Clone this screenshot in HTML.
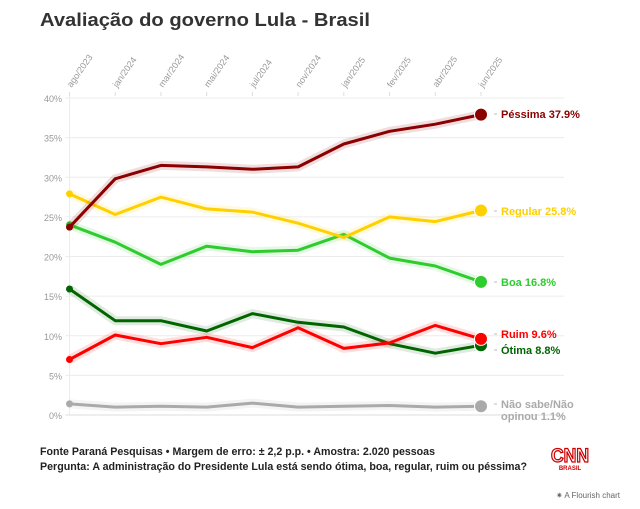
<!DOCTYPE html>
<html><head><meta charset="utf-8"><style>
body{margin:0;background:#fff;width:640px;height:504px;overflow:hidden;font-family:"Liberation Sans",sans-serif;}
</style></head><body>
<svg id="chart" width="640" height="504" xmlns="http://www.w3.org/2000/svg">
<text x="40" y="26" font-size="18" font-weight="bold" fill="#333" textLength="330" lengthAdjust="spacingAndGlyphs">Avaliação do governo Lula - Brasil</text>
<g id="grid"></g><g id="series"></g><g id="labels"></g>
<text x="40" y="455" font-size="11" font-weight="bold" fill="#222" textLength="395" lengthAdjust="spacingAndGlyphs">Fonte Paraná Pesquisas • Margem de erro: ± 2,2 p.p. • Amostra: 2.020 pessoas</text>
<text x="40" y="470" font-size="11" font-weight="bold" fill="#222" textLength="487" lengthAdjust="spacingAndGlyphs">Pergunta: A administração do Presidente Lula está sendo ótima, boa, regular, ruim ou péssima?</text>
<g>
<text x="570" y="462" font-size="19" font-weight="bold" fill="none" stroke="#cc0000" stroke-width="1.3" text-anchor="middle" textLength="38" lengthAdjust="spacingAndGlyphs">CNN</text>
<text x="570" y="470" font-size="6" font-weight="bold" fill="#cc0000" text-anchor="middle">BRASIL</text>
</g>
<text x="620" y="498" font-size="8" fill="#666" text-anchor="end">✷ A Flourish chart</text>
</svg>
<script>
const categories=["ago/2023","jan/2024","mar/2024","mai/2024","jul/2024","nov/2024","jan/2025","fev/2025","abr/2025","jun/2025"];
const yTicks=[0,5,10,15,20,25,30,35,40];
const seriesNames=["Péssima","Regular","Boa","Ruim","Ótima","Não sabe/Não opinou"];
const seriesColors=["#8b0000","#ffd000","#2ecc2e","#ff0000","#006400","#aaaaaa"];
const pessima=[23.7,29.8,31.5,31.3,31.0,31.3,34.2,35.8,36.7,37.9];
const regular=[27.9,25.3,27.5,26.0,25.6,24.2,22.4,25.0,24.4,25.8];
const boa=[24.0,21.8,19.0,21.3,20.6,20.8,22.8,19.8,18.8,16.8];
const ruim=[7.0,10.1,9.0,9.8,8.5,11.0,8.4,9.1,11.3,9.6];
const otima=[15.9,11.9,11.9,10.6,12.8,11.7,11.1,9.0,7.8,8.8];
const naoSabe=[1.4,1.0,1.1,1.0,1.5,1.0,1.1,1.2,1.0,1.1];
const allSeries=[pessima,regular,boa,ruim,otima,naoSabe];
const labelText=["Péssima 37.9%","Regular 25.8%","Boa 16.8%","Ruim 9.6%","Ótima 8.8%","Não sabe/Não|opinou 1.1%"];
const NS="http://www.w3.org/2000/svg";
const x0=69.5,x1=481,yb=415,yt=98;
const xS=i=>x0+(x1-x0)*i/(categories.length-1);
const yS=v=>yb-(yb-yt)*v/40;
function mk(t,a,p){const e=document.createElementNS(NS,t);for(const k in a)e.setAttribute(k,a[k]);p.appendChild(e);return e;}
const grid=document.getElementById('grid');
yTicks.forEach(v=>{
  const l=mk('line',{x1:x0-4,x2:564,y1:yS(v),y2:yS(v),stroke:v===0?'#ddd':'#ececec','stroke-width':1},grid);
  
  
  const t=mk('text',{x:62,y:yS(v)+4,'font-size':9,fill:'#999','text-anchor':'end'},grid);
  
  
  t.textContent=v+'%';
});
mk('line',{x1:x0,x2:x0,y1:yt-4,y2:yb,stroke:'#ececec'},grid);
categories.forEach((c,i)=>{
  const x=xS(i);
  mk('line',{x1:x,x2:x,y1:yt-6,y2:yt-2,stroke:'#ddd'},grid);
  const t=mk('text',{x:x+2,y:yt-10,'font-size':9,fill:'#999',transform:`rotate(-55 ${x+2} ${yt-10})`},grid);
  
  
  t.textContent=c;
});
const sg=document.getElementById('series'),lg=document.getElementById('labels');
const order=[5,4,3,2,1,0];
order.forEach(s=>{
  const d=allSeries[s].map((v,i)=>(i?'L':'M')+xS(i).toFixed(1)+','+yS(v).toFixed(1)).join(' ');
  const h=mk('path',{d,fill:'none',stroke:seriesColors[s],'stroke-opacity':0.13,'stroke-width':9,'stroke-linejoin':'round'},sg);
  const p=mk('path',{d,fill:'none',stroke:seriesColors[s],'stroke-width':3,'stroke-linejoin':'round'},sg);
  
  
  const c0=mk('circle',{cx:xS(0),cy:yS(allSeries[s][0]),r:3.5,fill:seriesColors[s]},sg);
  const n=allSeries[s].length-1;
  const c=mk('circle',{cx:xS(n),cy:yS(allSeries[s][n]),r:6.5,fill:seriesColors[s],stroke:'#fff','stroke-width':1},sg);
  
  
});
const labelY=[114,211,282,334,350,404];
allSeries.forEach((arr,s)=>{
  const parts=labelText[s].split('|');
  const t=mk('text',{x:501,y:labelY[s]+4,'font-size':11,'font-weight':'bold',fill:seriesColors[s]},lg);
  
  
  parts.forEach((p,k)=>{const ts=mk('tspan',{x:501,dy:k?12:0},t);ts.textContent=p;});
  mk('line',{x1:494,x2:497,y1:labelY[s],y2:labelY[s],stroke:'#bbb'},lg);
});
</script>
</body></html>
